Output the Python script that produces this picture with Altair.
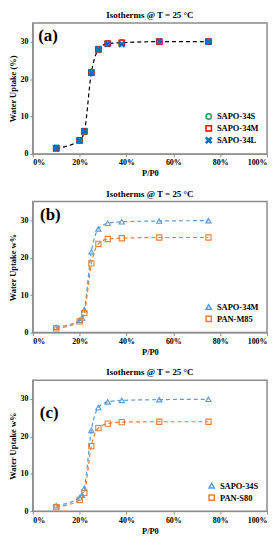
import altair as alt
import pandas as pd

# ---------- data ----------
pp_a = [0.10, 0.20, 0.22, 0.25, 0.28, 0.32, 0.38, 0.54, 0.75]
sapo34s_a = [1.6, 3.6, 6.1, 21.9, 28.0, 29.5, 29.8, 30.0, 30.0]
sapo34m_a = [1.5, 3.6, 6.0, 21.7, 27.9, 29.5, 29.7, 30.0, 30.0]
sapo34l_a = [1.6, 3.6, 6.1, 21.8, 28.0, 29.4, 29.3, 30.0, 30.0]

pp_sapo = [0.10, 0.20, 0.21, 0.22, 0.25, 0.28, 0.32, 0.38, 0.54, 0.75]
sapo34m_b = [1.4, 3.3, 3.9, 6.1, 21.6, 27.7, 29.2, 29.6, 29.8, 29.9]
sapo34s_c = [1.5, 3.6, 4.3, 6.1, 21.6, 27.7, 29.2, 29.6, 29.8, 29.9]

pp_pan = [0.10, 0.20, 0.22, 0.25, 0.28, 0.32, 0.38, 0.54, 0.75]
panm85 = [1.1, 3.0, 5.2, 18.5, 23.7, 25.0, 25.2, 25.4, 25.4]
pans80 = [1.1, 3.0, 4.9, 17.4, 22.2, 23.4, 23.8, 23.9, 23.9]

y_ticks = [0, 5, 10, 15, 20, 25, 30, 35]
x_ticks = [0, 0.2, 0.4, 0.6, 0.8, 1.0]

panel_labels = ["(a)", "(b)", "(c)"]
label_x = [0.065, 0.075, 0.07]
label_y = [31.4, 31.4, 26.1]

FONT = "Liberation Serif"
TITLE = "Isotherms @ T = 25 °C"
W, H = 236, 132

xscale = alt.Scale(domain=[0, 1])
yscale = alt.Scale(domain=[0, 35])
xaxis = alt.Axis(format=".0%", values=x_ticks, title="P/P0", grid=False,
                 labelOverlap=False)


def yaxis(t):
    return alt.Axis(values=y_ticks, title=t, grid=False, labelOverlap=False, format="d")


def label_layer(i):
    d = pd.DataFrame({"x": [label_x[i]], "y": [label_y[i]], "t": [panel_labels[i]]})
    return alt.Chart(d).mark_text(font=FONT, fontWeight="bold", fontSize=17, align="center",
                                  baseline="middle", color="black").encode(
        x=alt.X("x:Q", scale=xscale), y=alt.Y("y:Q", scale=yscale), text="t:N")


# ---------- panel (a) ----------
names_a = ["SAPO-34S", "SAPO-34M", "SAPO-34L"]
rows = []
for name, vals in zip(names_a, [sapo34s_a, sapo34m_a, sapo34l_a]):
    for x, y in zip(pp_a, vals):
        rows.append({"pp": x, "w": y, "s": name})
df_a = pd.DataFrame(rows)
df_a["o"] = df_a["s"].map({n: i for i, n in enumerate(names_a)})

xshape = "M-0.75,-1L0,-0.3L0.75,-1L1,-0.75L0.3,0L1,0.75L0.75,1L0,0.3L-0.75,1L-1,0.75L-0.3,0L-1,-0.75Z"

line_a = alt.Chart(df_a[df_a.s == "SAPO-34M"]).mark_line(
    color="black", strokeDash=[4, 3], strokeWidth=1.2, interpolate="monotone").encode(
    x=alt.X("pp:Q", scale=xscale, axis=xaxis),
    y=alt.Y("w:Q", scale=yscale, axis=yaxis("Water Uptake (%)")))

leg_a = alt.Legend(title=None, orient="bottom-right", offset=8, labelFont=FONT, labelFontWeight="bold",
                   labelFontSize=8.5, symbolSize=30, rowPadding=0, labelColor="black", padding=0)
pts_a = alt.Chart(df_a).mark_point(size=30, strokeWidth=1.3, opacity=1).encode(
    x="pp:Q", y="w:Q",
    shape=alt.Shape("s:N", scale=alt.Scale(domain=names_a, range=["circle", "square", xshape]), legend=leg_a),
    color=alt.Color("s:N", scale=alt.Scale(domain=names_a, range=["#00B050", "#FF0000", "#0070C0"]), legend=leg_a),
    fill=alt.Fill("s:N", scale=alt.Scale(domain=names_a, range=["transparent", "transparent", "#0070C0"]), legend=leg_a),
    order="o:Q")

chart_a = alt.layer(line_a, pts_a, label_layer(0)).properties(
    width=W, height=H, title=TITLE)


# ---------- panels (b), (c) ----------
def panel(sapo_name, sapo_vals, pan_name, pan_vals, i):
    rows = []
    for x, y in zip(pp_sapo, sapo_vals):
        rows.append({"pp": x, "w": y, "s": sapo_name})
    for x, y in zip(pp_pan, pan_vals):
        rows.append({"pp": x, "w": y, "s": pan_name})
    df = pd.DataFrame(rows)
    dom = [sapo_name, pan_name]
    cs = alt.Scale(domain=dom, range=["#5B9BD5", "#ED7D31"])
    leg = alt.Legend(title=None, orient="bottom-right", offset=8, labelFont=FONT, labelFontWeight="bold",
                     labelFontSize=8.5, symbolSize=28, rowPadding=0, labelColor="black", padding=0)
    base = alt.Chart(df).encode(
        x=alt.X("pp:Q", scale=xscale, axis=xaxis),
        y=alt.Y("w:Q", scale=yscale, axis=yaxis("Water Uptake w%")),
        color=alt.Color("s:N", scale=cs, legend=leg))
    ln = base.mark_line(strokeDash=[4, 3], strokeWidth=1.2, interpolate="monotone")
    pt = base.mark_point(size=28, strokeWidth=1.1, filled=False, opacity=1).encode(
        shape=alt.Shape("s:N", scale=alt.Scale(domain=dom, range=["triangle-up", "square"]), legend=leg))
    return alt.layer(ln, pt, label_layer(i)).properties(width=W, height=H, title=TITLE)


chart_b = panel("SAPO-34M", sapo34m_b, "PAN-M85", panm85, 1)
chart_c = panel("SAPO-34S", sapo34s_c, "PAN-S80", pans80, 2)

chart = alt.vconcat(chart_a, chart_b, chart_c, spacing=10).resolve_scale(
    color="independent", shape="independent", fill="independent").properties(
    padding={"left": 0, "top": 0, "right": 0, "bottom": 0}).configure_view(
    stroke="#8c8c8c", strokeWidth=1.5).configure_axis(
    labelFont=FONT, titleFont=FONT, labelFontWeight="bold", titleFontWeight="bold",
    labelFontSize=8, titleFontSize=8.5, labelColor="black", titleColor="black",
    labelOverlap=False, labelBound=False,
    domainColor="#8c8c8c", tickColor="#8c8c8c", tickSize=3, labelPadding=2, titlePadding=2).configure_title(
    font=FONT, fontWeight="bold", fontSize=9, color="black", offset=3)

chart.save("out.html", embed_options={"renderer": "svg", "actions": False})
